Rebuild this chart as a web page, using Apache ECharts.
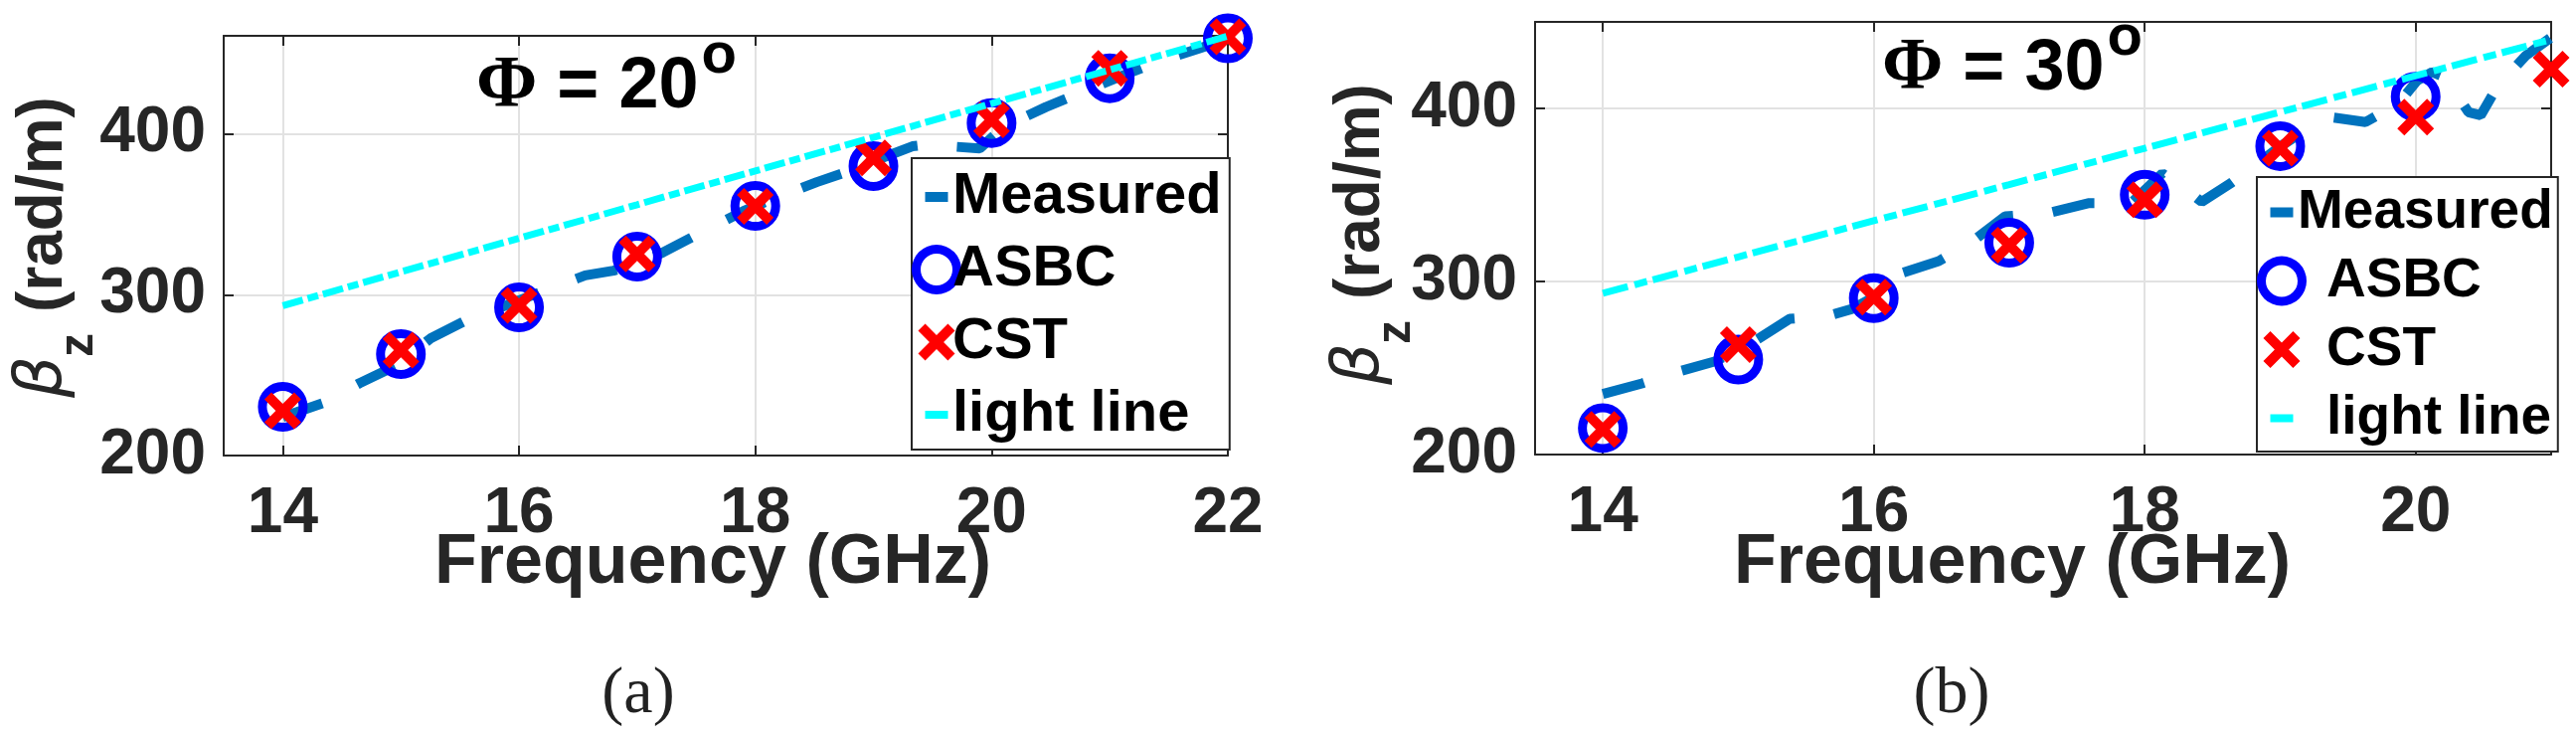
<!DOCTYPE html>
<html><head><meta charset="utf-8">
<script src="https://cdn.jsdelivr.net/npm/echarts@6/dist/echarts.min.js"></script>
<style>html,body{margin:0;padding:0;background:#fff;}#c{width:2591px;height:744px;}</style>
</head><body><div id="c"></div>
<script>
// ---------- data (a) Phi = 20 deg ----------
const freqA = [14, 15, 16, 17, 18, 19, 20, 21, 22];
const asbcA = [230.3, 263.1, 292.1, 323.7, 355.2, 380.0, 406.8, 434.6, 459.4];
const cstA = [227.8, 265.5, 293.4, 325.4, 355.0, 385.1, 408.8, 440.8, 460.4];
const lightA = [293.2, 314.2, 335.1, 356.0, 377.0, 397.9, 418.9, 439.8, 460.8];
const measFreqA = [14.0, 14.34, 14.65, 14.97, 15.25, 15.57, 15.89, 16.22, 16.56, 16.8, 17.0, 17.22, 17.55, 17.9, 18.2, 18.52, 18.8, 19.0, 19.33, 19.52, 19.7, 19.9, 20.11, 20.46, 20.8, 21.1, 21.45, 21.75, 22.0];
const measA = [224, 232.6, 245, 256.3, 272.8, 284.7, 293.4, 302.7, 312, 315, 319, 326.4, 339, 352, 361, 370, 377, 383, 392.3, 394, 392, 391, 404.7, 416.7, 427, 436, 446, 453, 459];
// ---------- data (b) Phi = 30 deg ----------
const freqB = [14, 15, 16, 17, 18, 19, 20, 21];
const asbcB = [215.3, 254.9, 290.4, 322.4, 350.1, 378.2, 406.8];
const cstB = [214.5, 263.5, 291.0, 321.0, 347.2, 377.0, 395.0, 422.7];
const lightB = [293.2, 314.2, 335.1, 356.0, 377.0, 397.9, 418.9, 439.8];
const measFreqB = [14.0, 14.29, 14.57, 14.83, 15.09, 15.38, 15.67, 15.84, 16.0, 16.18, 16.48, 16.73, 16.97, 17.29, 17.59, 17.9, 18.13, 18.34, 18.42, 18.64, 19.0, 19.34, 19.63, 19.87, 20.01, 20.12, 20.22, 20.39, 20.48, 20.6, 20.81, 21.0];
const measB = [235, 241.1, 248.2, 253.9, 264, 278.4, 280.3, 284.1, 291, 304.2, 311.8, 323.3, 337.6, 339.6, 345.3, 345.3, 362.5, 351, 346, 357, 378, 395.3, 392.1, 402.6, 416, 421, 417.9, 397.8, 396, 412.2, 430.3, 441];
// ---------- ticks ----------
const xTickA = [14, 16, 18, 20, 22];
const xTickB = [14, 16, 18, 20];
const yTick = [200, 300, 400];
const seriesNames = ['Measured', 'ASBC', 'CST', 'light line'];

const pairs = (xs, ys) => ys.map((y, i) => [xs[i], y]);
const DARK = '#262626';
const SANS = 'Liberation Sans';
const XSYM = 'path://M0,7.07L7.07,0L18.5,11.43L29.93,0L37,7.07L25.57,18.5L37,29.93L29.93,37L18.5,25.57L7.07,37L0,29.93L11.43,18.5Z';
const ICON = {
  'Measured': 'path://M0,0M50,50M13.5,20L36.5,20L36.5,30L13.5,30Z',
  'ASBC': 'path://M0,0M50,50M0,25A25,25,0,1,0,50,25A25,25,0,1,0,0,25ZM9,25A16,16,0,1,1,41,25A16,16,0,1,1,9,25Z',
  'CST': 'path://M0,0M50,50M6.5,13.57L13.57,6.5L25,17.93L36.43,6.5L43.5,13.57L32.07,25L43.5,36.43L36.43,43.5L25,32.07L13.57,43.5L6.5,36.43L17.93,25Z',
  'light line': 'path://M0,0M50,50M13.5,21L36.5,21L36.5,29L13.5,29Z'
};
const ICONCOL = {'Measured': '#0072BD', 'ASBC': '#0000FF', 'CST': '#FF0000', 'light line': '#00FFFF'};

function xAxisBottom(g, max, ticks) {
  return {gridIndex: g, type: 'value', min: 13.5, max: max, minInterval: 2, maxInterval: 2,
    axisLine: {show: true, onZero: false, lineStyle: {color: DARK, width: 2}},
    axisTick: {show: true, inside: true, length: 10, customValues: ticks, lineStyle: {color: DARK, width: 2}},
    axisLabel: {customValues: ticks, margin: 27, fontSize: 64, fontWeight: 'bold', fontFamily: SANS, color: DARK},
    splitLine: {show: true, lineStyle: {color: '#e2e2e2', width: 2}}};
}
function xAxisTop(g, max, ticks) {
  return {gridIndex: g, type: 'value', position: 'top', min: 13.5, max: max, minInterval: 2, maxInterval: 2,
    axisLine: {show: true, onZero: false, lineStyle: {color: DARK, width: 2}},
    axisTick: {show: true, inside: true, length: 10, customValues: ticks, lineStyle: {color: DARK, width: 2}},
    axisLabel: {show: false}, splitLine: {show: false}};
}
function yAxisLeft(g, max) {
  return {gridIndex: g, type: 'value', min: 200, max: max, interval: 100,
    axisLine: {show: true, onZero: false, lineStyle: {color: DARK, width: 2}},
    axisTick: {show: true, inside: true, length: 10, customValues: yTick, lineStyle: {color: DARK, width: 2}},
    axisLabel: {customValues: yTick, margin: 18, fontSize: 64, fontWeight: 'bold', fontFamily: SANS, color: DARK},
    splitLine: {show: true, lineStyle: {color: '#e2e2e2', width: 2}}};
}
function yAxisRight(g, max) {
  return {gridIndex: g, type: 'value', position: 'right', min: 200, max: max, interval: 100,
    axisLine: {show: true, onZero: false, lineStyle: {color: DARK, width: 2}},
    axisTick: {show: true, inside: true, length: 10, customValues: yTick, lineStyle: {color: DARK, width: 2}},
    axisLabel: {show: false}, splitLine: {show: false}};
}
function seriesFor(ax, mf, m, f, asbc, cst, light, dashM, dashL) {
  return [
    {name: 'Measured', type: 'line', xAxisIndex: ax, yAxisIndex: ax, data: pairs(mf, m), symbol: 'none', showSymbol: false, z: 2,
      itemStyle: {color: '#0072BD'}, lineStyle: {color: '#0072BD', width: 10, type: dashM, cap: 'butt'}},
    {name: 'ASBC', type: 'scatter', xAxisIndex: ax, yAxisIndex: ax, data: pairs(f, asbc), symbol: 'circle', symbolSize: 41, clip: false, z: 3,
      itemStyle: {color: 'rgba(0,0,0,0)', borderColor: '#0000FF', borderWidth: 9, opacity: 1}},
    {name: 'CST', type: 'scatter', xAxisIndex: ax, yAxisIndex: ax, data: pairs(f, cst), symbol: XSYM, symbolSize: 37, clip: false, z: 4,
      itemStyle: {color: '#FF0000', opacity: 1}},
    {name: 'light line', type: 'line', xAxisIndex: ax, yAxisIndex: ax, data: pairs(f, light), symbol: 'none', showSymbol: false, z: 5,
      itemStyle: {color: '#00FFFF'}, lineStyle: {color: '#00FFFF', width: 7, type: dashL, cap: 'butt'}}
  ];
}
function legendFor(left, top, fs, gap, padTop, padR, rich) {
  return {orient: 'vertical', left: left, top: top, itemWidth: 50, itemHeight: 50, itemGap: gap,
    padding: [padTop, padR, 6, 0], borderColor: DARK, borderWidth: 2, backgroundColor: '#fff', selectedMode: false,
    formatter: rich.fmt,
    textStyle: {fontSize: fs, fontWeight: 'bold', fontFamily: SANS, color: '#000', rich: rich.rich},
    data: seriesNames.map(n => ({name: n, icon: ICON[n], itemStyle: {color: ICONCOL[n], borderWidth: 0}}))};
}
const phiRich = () => ({
  p: {fontFamily: 'Liberation Serif', fontWeight: 'bold', fontSize: 74, color: '#000'},
  t: {fontFamily: SANS, fontWeight: 'bold', fontSize: 72, color: '#000'},
  s: {fontFamily: SANS, fontWeight: 'bold', fontSize: 58, color: '#000', padding: [0, 0, 62, 3]}
});
// y-axis title pieces, drawn rotated (reads bottom to top)
function yTitle(cx, startY, zStartY, bStartY) {
  const R = Math.PI / 2;
  return [
    {type: 'text', x: cx, y: bStartY, rotation: R, style: {text: 'β', font: 'italic 66px "DejaVu Sans"', fill: DARK, align: 'left', verticalAlign: 'middle'}},
    {type: 'text', x: cx + 36, y: zStartY, rotation: R, style: {text: 'z', font: 'bold 48px "Liberation Sans"', fill: DARK, align: 'left', verticalAlign: 'middle'}},
    {type: 'text', x: cx, y: startY, rotation: R, style: {text: '(rad/m)', font: 'bold 64px "Liberation Sans"', fill: DARK, align: 'left', verticalAlign: 'middle'}}
  ];
}

const chart = echarts.init(document.getElementById('c'), null, {renderer: 'canvas'});
chart.setOption({
  animation: false,
  backgroundColor: '#fff',
  grid: [
    {left: 225, top: 36, width: 1010, height: 422},
    {left: 1544, top: 22, width: 1022, height: 435}
  ],
  xAxis: [xAxisBottom(0, 22, xTickA), xAxisBottom(1, 21, xTickB), xAxisTop(0, 22, xTickA), xAxisTop(1, 21, xTickB)],
  yAxis: [yAxisLeft(0, 461), yAxisLeft(1, 450), yAxisRight(0, 461), yAxisRight(1, 450)],
  legend: [
    legendFor(917, 159, 58, 15, 10, 8, {fmt: n => '{a|' + n + '}', rich: {a: {fontSize: 58, fontWeight: 'bold', fontFamily: SANS, color: '#000', padding: [0, 0, 0, -14]}}}),
    legendFor(2270, 178, 55, 14, 8, 5, {fmt: n => n === 'Measured' ? '{m|' + n + '}' : '{o|' + n + '}',
      rich: {m: {fontSize: 55, fontWeight: 'bold', fontFamily: SANS, color: '#000', padding: [0, 0, 0, -14]},
             o: {fontSize: 55, fontWeight: 'bold', fontFamily: SANS, color: '#000', padding: [0, 0, 0, 15]}}})
  ],
  series: [].concat(
    seriesFor(0, measFreqA, measA, freqA, asbcA, cstA, lightA, [42, 40], [21, 5, 11, 5]),
    seriesFor(1, measFreqB, measB, freqB, asbcB, cstB, lightB, [43, 40], [26, 7, 13, 6])
  ),
  graphic: [].concat(
    yTitle(44, 314, 359, 400),
    yTitle(1369, 301, 346, 387),
    [
    {type: 'text', x: 479, y: 88, z: 100, style: {text: '{p|Φ}{t| = 20}{s|o}', rich: phiRich(), align: 'left', verticalAlign: 'middle'}},
    {type: 'text', x: 1893, y: 70, z: 100, style: {text: '{p|Φ}{t| = 30}{s|o}', rich: phiRich(), align: 'left', verticalAlign: 'middle'}},
    {type: 'text', x: 717, y: 567, style: {text: 'Frequency (GHz)', font: 'bold 70px "Liberation Sans"', fill: DARK, align: 'center', verticalAlign: 'middle'}},
    {type: 'text', x: 2024, y: 567, style: {text: 'Frequency (GHz)', font: 'bold 70px "Liberation Sans"', fill: DARK, align: 'center', verticalAlign: 'middle'}},
    {type: 'text', x: 642, y: 699, style: {text: '(a)', font: '66px "Liberation Serif"', fill: '#222', align: 'center', verticalAlign: 'middle'}},
    {type: 'text', x: 1963, y: 699, style: {text: '(b)', font: '66px "Liberation Serif"', fill: '#222', align: 'center', verticalAlign: 'middle'}}
  ])
});
</script></body></html>
